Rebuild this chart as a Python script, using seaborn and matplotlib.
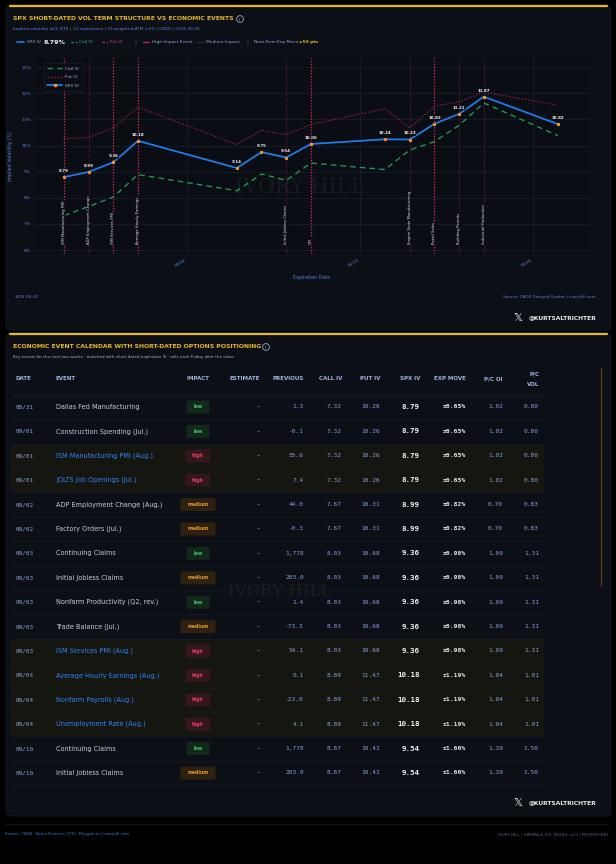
import numpy as np
import pandas as pd
import matplotlib
matplotlib.use("Agg")
import matplotlib.pyplot as plt
from matplotlib.patches import FancyBboxPatch, Rectangle, Circle
from matplotlib.lines import Line2D
import seaborn as sns

# ---- chart data ----
exp_dates = ["2026-09-01", "2026-09-02", "2026-09-03", "2026-09-04", "2026-09-08",
             "2026-09-09", "2026-09-10", "2026-09-11", "2026-09-14", "2026-09-15",
             "2026-09-16", "2026-09-17", "2026-09-18", "2026-09-21"]
spx_iv = [8.79, 8.99, 9.36, 10.18, 9.14, 9.75, 9.54, 10.06, 10.24, 10.23, 10.83, 11.21, 11.87, 10.82]
call_iv = [7.32, 7.67, 8.03, 8.89, 8.27, 8.91, 8.67, 9.33, 9.08, 9.83, 10.15, 10.77, 11.63, 10.38]
put_iv = [10.26, 10.31, 10.68, 11.47, 10.04, 10.59, 10.41, 10.81, 11.41, 10.67, 11.51, 11.67, 12.05, 11.54]

event_dates = ["2026-09-01", "2026-09-02", "2026-09-03", "2026-09-04", "2026-09-10",
               "2026-09-11", "2026-09-15", "2026-09-16", "2026-09-17", "2026-09-18"]
event_names = ["ISM Manufacturing PMI", "ADP Employment Change", "ISM Services PMI",
               "Average Hourly Earnings", "Initial Jobless Claims", "CPI",
               "Empire State Manufacturing", "Retail Sales", "Building Permits",
               "Industrial Production"]
event_impact = ["high", "medium", "high", "high", "medium", "high", "medium", "high", "medium", "medium"]

xtick_dates = ["2026-09-06", "2026-09-13", "2026-09-20"]
xtick_labels = ["09/06", "09/13", "09/20"]
ytick_vals = [6, 7, 8, 9, 10, 11, 12, 13]

# ---- table data ----
tbl_date = ["08/31", "09/01", "09/01", "09/01", "09/02", "09/02", "09/03", "09/03",
            "09/03", "09/03", "09/03", "09/04", "09/04", "09/04", "09/10", "09/10"]
tbl_event = ["Dallas Fed Manufacturing", "Construction Spending (Jul.)",
             "ISM Manufacturing PMI (Aug.)", "JOLTS Job Openings (Jul.)",
             "ADP Employment Change (Aug.)", "Factory Orders (Jul.)", "Continuing Claims",
             "Initial Jobless Claims", "Nonfarm Productivity (Q2, rev.)", "Trade Balance (Jul.)",
             "ISM Services PMI (Aug.)", "Average Hourly Earnings (Aug.)", "Nonfarm Payrolls (Aug.)",
             "Unemployment Rate (Aug.)", "Continuing Claims", "Initial Jobless Claims"]
tbl_impact = ["low", "low", "high", "high", "medium", "medium", "low", "medium",
              "low", "medium", "high", "high", "high", "high", "low", "medium"]
tbl_estimate = ["–"] * 16
tbl_prev = ["1.3", "-0.1", "55.6", "7.4", "44.0", "-0.3", "1,778", "203.0",
            "1.4", "-73.3", "54.1", "0.1", "-23.0", "4.1", "1,778", "203.0"]
tbl_call = ["7.32", "7.32", "7.32", "7.32", "7.67", "7.67", "8.03", "8.03",
            "8.03", "8.03", "8.03", "8.89", "8.89", "8.89", "8.67", "8.67"]
tbl_put = ["10.26", "10.26", "10.26", "10.26", "10.31", "10.31", "10.68", "10.68",
           "10.68", "10.68", "10.68", "11.47", "11.47", "11.47", "10.41", "10.41"]
tbl_spx = ["8.79", "8.79", "8.79", "8.79", "8.99", "8.99", "9.36", "9.36",
           "9.36", "9.36", "9.36", "10.18", "10.18", "10.18", "9.54", "9.54"]
tbl_move = ["±0.65%", "±0.65%", "±0.65%", "±0.65%", "±0.82%", "±0.82%", "±0.98%", "±0.98%",
            "±0.98%", "±0.98%", "±0.98%", "±1.19%", "±1.19%", "±1.19%", "±1.66%", "±1.66%"]
tbl_pcoi = ["1.02", "1.02", "1.02", "1.02", "0.70", "0.70", "1.09", "1.09",
            "1.09", "1.09", "1.09", "1.04", "1.04", "1.04", "1.39", "1.39"]
tbl_pcvol = ["0.80", "0.80", "0.80", "0.80", "0.83", "0.83", "1.31", "1.31",
             "1.31", "1.31", "1.31", "1.01", "1.01", "1.01", "2.50", "2.50"]

# colours
BG = "#000000"
PANEL = "#0c0f16"
GOLD = "#e8b923"
BLUE = "#1f7be8"
GREEN = "#1f9a4a"
RED = "#c4264f"
PUTRED = "#9a2448"
DIMRED = "#5c2035"
TXT_BLUE = "#5b82d6"
GRID = "#1b202c"

sns.set_theme(style="dark")
plt.rcParams["font.family"] = ["DejaVu Sans"]

W, H = 616, 864
fig = plt.figure(figsize=(W / 100, H / 100), dpi=100)
fig.patch.set_facecolor(BG)

# background canvas in pixel coordinates
bg = fig.add_axes([0, 0, 1, 1])
bg.set_xlim(0, W)
bg.set_ylim(H, 0)
bg.axis("off")
bg.set_zorder(0)


def panel(y0, y1):
    bg.add_patch(FancyBboxPatch((6, y0), 605, y1 - y0, boxstyle="round,pad=0,rounding_size=5",
                                fc=PANEL, ec="#161a22", lw=0.6, zorder=0.2))
    bg.plot([10, 607], [y0 + 0.8, y0 + 0.8], color=GOLD, lw=1.6, solid_capstyle="round")


def info_icon(x, y):
    bg.add_patch(Circle((x, y), 3.4, fill=False, ec="#9aa6c0", lw=0.6))
    bg.text(x, y + 0.3, "i", color="#9aa6c0", fontsize=3.6, ha="center", va="center", style="italic")


panel(5, 330)
panel(333, 816)

# ---- top panel header ----
bg.text(13, 19, "SPX SHORT-DATED VOL TERM STRUCTURE VS ECONOMIC EVENTS", color=GOLD,
        fontsize=4.4, fontweight="bold", va="center")
info_icon(240, 19)
bg.text(13, 29, "Implied volatility ≤22 DTE | 14 expirations | OI-weighted ATM ±3% | CBOE | 2026-08-30",
        color=TXT_BLUE, fontsize=3.1, va="center")

ly = 42
bg.plot([17, 24], [ly, ly], color=BLUE, lw=1.2)
bg.text(27, ly, "SPX IV", color="#8fa6d8", fontsize=3.2, va="center")
bg.text(44, ly, "8.79%", color="#f2f2f2", fontsize=4.6, fontweight="bold", va="center")
bg.plot([71, 77], [ly, ly], color=GREEN, lw=0.9, ls=(0, (2, 1.5)))
bg.text(79, ly, "Call IV", color="#2fbf5f", fontsize=3.2, va="center")
bg.plot([102, 108], [ly, ly], color=RED, lw=0.9, ls=(0, (2, 1.5)))
bg.text(110, ly, "Put IV", color="#e0405a", fontsize=3.2, va="center")
bg.text(134, ly, "|", color="#55627a", fontsize=4, va="center")
bg.plot([143, 149], [ly, ly], color=RED, lw=0.9)
bg.text(152, ly, "High Impact Event", color="#8fa6d8", fontsize=3.2, va="center")
bg.plot([197, 203], [ly, ly], color="#3a2430", lw=0.9)
bg.text(206, ly, "Medium Impact", color="#8fa6d8", fontsize=3.2, va="center")
bg.text(246, ly, "|", color="#55627a", fontsize=4, va="center")
bg.text(254, ly, "Near-Term Exp Move:", color="#8fa6d8", fontsize=3.2, va="center")
bg.text(299, ly, "±50 pts", color=GOLD, fontsize=3.2, fontweight="bold", va="center")

# ---- term structure chart ----
ax = fig.add_axes([35 / W, 1 - 254 / H, (589 - 35) / W, (254 - 58) / H])
ax.set_zorder(2)
ax.set_facecolor("#0a0d14")

df = pd.DataFrame({"date": pd.to_datetime(exp_dates), "spx": spx_iv, "call": call_iv, "put": put_iv})
ev = pd.DataFrame({"date": pd.to_datetime(event_dates), "name": event_names, "impact": event_impact})

for d, imp in zip(ev["date"], ev["impact"]):
    if imp == "high":
        ax.axvline(d, color=RED, ls=(0, (1.2, 1.2)), lw=0.9, zorder=1)
    else:
        ax.axvline(d, color=DIMRED, ls=(0, (1.2, 1.2)), lw=0.7, zorder=1)

sns.lineplot(data=df, x="date", y="call", ax=ax, color=GREEN, lw=1.0, label="Call IV", zorder=3)
ax.lines[-1].set_linestyle((0, (4, 3)))
sns.lineplot(data=df, x="date", y="put", ax=ax, color=PUTRED, lw=0.9, label="Put IV", zorder=3)
ax.lines[-1].set_linestyle((0, (1, 1.5)))
sns.lineplot(data=df, x="date", y="spx", ax=ax, color=BLUE, lw=1.3, label="SPX IV",
             marker="s", markersize=2.0, markerfacecolor="#f0902a", markeredgecolor="#f0902a", zorder=4)

for d, v in zip(df["date"], df["spx"]):
    ax.annotate(f"{v:.2f}", (d, v), xytext=(0, 3.0), textcoords="offset points", ha="center",
                va="bottom", fontsize=2.9, color="#f2f2f2", fontweight="bold", zorder=6,
                bbox=dict(boxstyle="square,pad=0.1", fc="#0a0d14", ec="none", alpha=0.7))

for d, name in zip(ev["date"], ev["name"]):
    ax.text(d, 6.23, name, rotation=90, ha="center", va="bottom", fontsize=2.7, color="#dfe4ee",
            zorder=6, bbox=dict(boxstyle="square,pad=0.15", fc="#0a0d14", ec="none", alpha=0.8))

ax.text(0.478, 0.34, "IVORY HILL", transform=ax.transAxes, fontsize=15, family="DejaVu Serif",
        color="#161a22", ha="center", va="center", zorder=0)

x0 = pd.Timestamp("2026-09-01")
ax.set_xlim(x0 - pd.Timedelta(days=1.17), x0 + pd.Timedelta(days=21.26))
ax.set_ylim(5.85, 13.35)
ax.set_xticks(pd.to_datetime(xtick_dates))
ax.set_xticklabels(xtick_labels, rotation=30, ha="right", fontsize=3.2, color=TXT_BLUE)
ax.set_yticks(ytick_vals)
ax.set_yticklabels([f"{v}%" for v in ytick_vals], fontsize=3.2, color=TXT_BLUE)
ax.tick_params(length=0, pad=3)
ax.grid(True, color=GRID, lw=0.5)
for s in ax.spines.values():
    s.set_visible(False)
ax.set_xlabel("Expiration Date", color=TXT_BLUE, fontsize=3.4, labelpad=5)
ax.set_ylabel("Implied Volatility (%)", color=TXT_BLUE, fontsize=3.4, labelpad=6)

handles = [Line2D([], [], color=GREEN, lw=1, ls=(0, (4, 3))),
           Line2D([], [], color=PUTRED, lw=1, ls=(0, (1, 1.5))),
           Line2D([], [], color=BLUE, lw=1.3, marker="s", markersize=2.0,
                  markerfacecolor="#f0902a", markeredgecolor="#f0902a")]
leg = ax.legend(handles, ["Call IV", "Put IV", "SPX IV"], loc="upper left", bbox_to_anchor=(0.012, 0.985),
                fontsize=3.2, frameon=True, facecolor="#0a0d14", edgecolor="#1e2330",
                labelcolor="#9fb2dc", handlelength=3.2, borderpad=0.8, labelspacing=1.0)
leg.get_frame().set_linewidth(0.5)

bg.text(15, 297, "2026-08-30", color=TXT_BLUE, fontsize=3.0, va="center")
bg.text(596, 297, "Source: CBOE Delayed Quotes | ivoryhill.com", color=TXT_BLUE, fontsize=3.0,
        va="center", ha="right")


def handle(y):
    bg.text(518, y, "𝕏", color="#f2f2f2", fontsize=8, ha="center", va="center")
    bg.text(529, y, "@KURTSALTRICHTER", color="#e8e8e8", fontsize=4.3, fontweight="bold", va="center")


handle(318)

# ---- calendar panel ----
bg.text(13, 347, "ECONOMIC EVENT CALENDAR WITH SHORT-DATED OPTIONS POSITIONING", color=GOLD,
        fontsize=4.4, fontweight="bold", va="center")
info_icon(266, 347)
bg.text(13, 357, "Key events for the next two weeks · matched with short-dated expiration IV · rolls each Friday after the close",
        color="#aab6d0", fontsize=2.9, va="center")

# scrollbar
bg.plot([601, 601], [368, 586], color="#4a3c14", lw=1.0)

hy = 379
hkw = dict(color="#9fb4e4", fontsize=4.0, fontweight="bold", va="center")
bg.text(16, hy, "DATE", **hkw)
bg.text(56, hy, "EVENT", **hkw)
bg.text(198, hy, "IMPACT", ha="center", **hkw)
bg.text(260, hy, "ESTIMATE", ha="right", **hkw)
bg.text(304, hy, "PREVIOUS", ha="right", **hkw)
bg.text(342, hy, "CALL IV", ha="right", **hkw)
bg.text(380, hy, "PUT IV", ha="right", **hkw)
bg.text(420, hy, "SPX IV", ha="right", **hkw)
bg.text(466, hy, "EXP MOVE", ha="right", **hkw)
bg.text(503, hy, "P/C OI", ha="right", **hkw)
bg.text(539, hy - 5.5, "P/C", ha="right", **hkw)
bg.text(539, hy + 5.5, "VOL", ha="right", **hkw)
bg.plot([11, 544], [395, 395], color="#1a1f2a", lw=0.6)

badge = {"low": ("#12281a", "#3ccf6a", 23), "high": ("#33161e", "#e8405e", 25),
         "medium": ("#2e2110", "#e69a2e", 35)}
row_h = 24.4
mono = "DejaVu Sans Mono"

for i in range(len(tbl_date)):
    y = 407 + row_h * i
    imp = tbl_impact[i]
    if imp == "high":
        bg.add_patch(Rectangle((11, y - row_h / 2), 533, row_h, fc="#15160f", ec="none", zorder=0.3))
    bg.plot([11, 544], [y + row_h / 2, y + row_h / 2], color="#171b24", lw=0.5)
    fc, tc, bw = badge[imp]
    bg.add_patch(FancyBboxPatch((198 - bw / 2, y - 6.5), bw, 13, boxstyle="round,pad=0,rounding_size=1.5",
                                fc=fc, ec="none", zorder=1))
    bg.text(198, y, imp, color=tc, fontsize=3.3, fontweight="bold", ha="center", va="center", zorder=2)
    bg.text(16, y, tbl_date[i], color="#8aa4d8", fontsize=4.3, family=mono, va="center", zorder=2)
    ev_col = "#2f86ff" if imp == "high" else "#c4cde0"
    bg.text(56, y, tbl_event[i], color=ev_col, fontsize=4.7, va="center", zorder=2)
    bg.text(260, y, tbl_estimate[i], color="#c4cde0", fontsize=4.3, ha="right", va="center", zorder=2)
    nkw = dict(color="#86a2e2", fontsize=4.4, family=mono, ha="right", va="center", zorder=2)
    bg.text(304, y, tbl_prev[i], **nkw)
    bg.text(342, y, tbl_call[i], **nkw)
    bg.text(380, y, tbl_put[i], **nkw)
    bg.text(503, y, tbl_pcoi[i], **nkw)
    bg.text(539, y, tbl_pcvol[i], **nkw)
    bg.text(420, y, tbl_spx[i], color="#f2f2f2", fontsize=5.4, family=mono, fontweight="bold",
            ha="right", va="center", zorder=2)
    bg.text(466, y, tbl_move[i], color="#e6e6e6", fontsize=4.6, family=mono, fontweight="bold",
            ha="right", va="center", zorder=2)

# faint watermark behind the table text
bg.text(280, 592, "IVORY HILL", fontsize=12, family="DejaVu Serif", color="#1a1d25",
        ha="center", va="center", zorder=0.5)

handle(803)

# ---- footer ----
bg.plot([5, 609], [824, 824], color="#151922", lw=0.6)
bg.text(5, 834, "Source: CBOE, Yahoo Finance, CFTC, Polygon.io | ivoryhill.com", color="#4a78d8",
        fontsize=2.9, va="center")
bg.text(609, 834, "IVORY HILL | GAMMA & VOL MODEL v2.0 | PROPRIETARY", color="#5a6272",
        fontsize=2.9, va="center", ha="right")

fig.savefig("out.png", dpi=100, facecolor=BG)
